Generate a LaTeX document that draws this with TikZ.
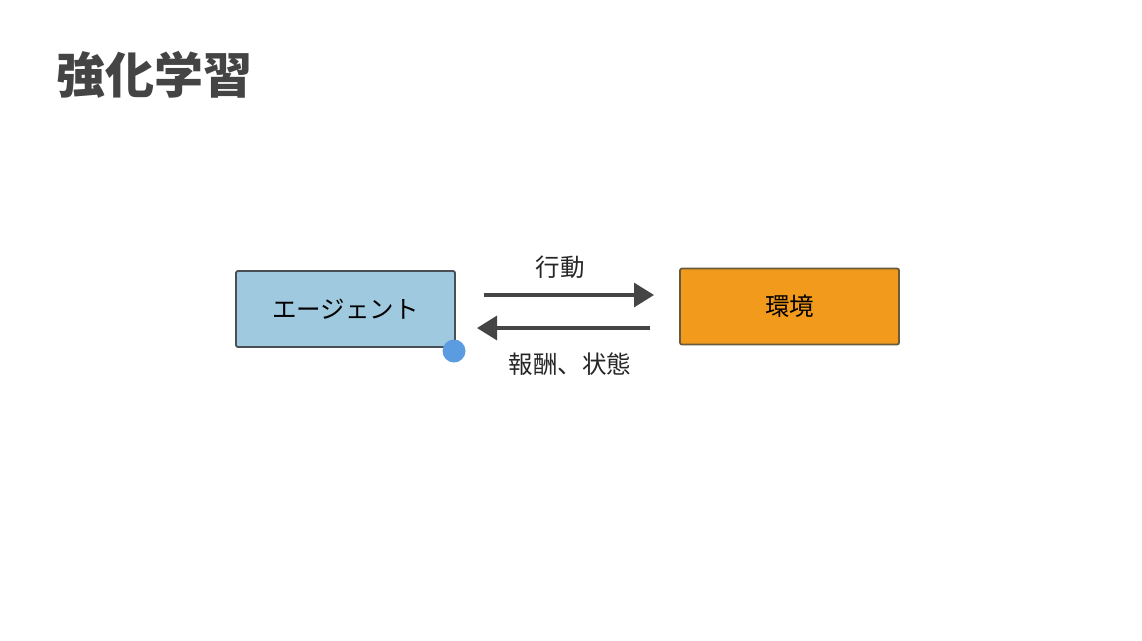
\documentclass[tikz,border=0pt]{standalone}
\usepackage{fontspec}
\setmainfont{Noto Sans CJK JP}
\usetikzlibrary{arrows.meta}
\definecolor{agentfill}{HTML}{9FC9DF}
\definecolor{envfill}{HTML}{F29A1C}
\definecolor{envdraw}{HTML}{6A5A3C}
\definecolor{boxdraw}{HTML}{4A4F55}
\definecolor{arrowcol}{HTML}{454545}
\definecolor{titlecol}{HTML}{444444}
\definecolor{dotcol}{HTML}{5B9BE0}
\tikzset{
  box/.style={rectangle, rounded corners=2pt, line width=1.8pt, minimum width=219pt, minimum height=76pt, inner sep=0pt, font=\fontsize{24.5}{28}\selectfont},
  flow/.style={draw=arrowcol, line width=3.2pt, -{Triangle[length=20pt,width=24pt]}},
  lbl/.style={font=\fontsize{24.5}{28}\selectfont, text=black!85, inner sep=0pt}
}
\begin{document}
\begin{tikzpicture}[x=1pt,y=-1pt]
\fill[white] (0,0) rectangle (1142,640);
\useasboundingbox (0,0) rectangle (1142,640);
\node[font=\fontsize{49}{54}\selectfont\bfseries, text=titlecol, anchor=west, inner sep=0pt] (title) at (56,75) {強化学習};
\node[box, draw=boxdraw, fill=agentfill] (agent) at (345.5,309) {エージェント};
\node[box, draw=envdraw, fill=envfill] (env) at (789.5,306.5) {環境};
\fill[dotcol] (454,351) circle (11.5pt);
\coordinate (a1s) at (484,295);
\coordinate (a1e) at (654,295);
\coordinate (a2s) at (650,328);
\coordinate (a2e) at (477,328);
\draw[flow] (a1s) -- (a1e);
\draw[flow] (a2s) -- (a2e);
\node[lbl] (act) at (560,267) {行動};
\node[lbl] (rew) at (570,364) {報酬、状態};
\end{tikzpicture}
\end{document}
